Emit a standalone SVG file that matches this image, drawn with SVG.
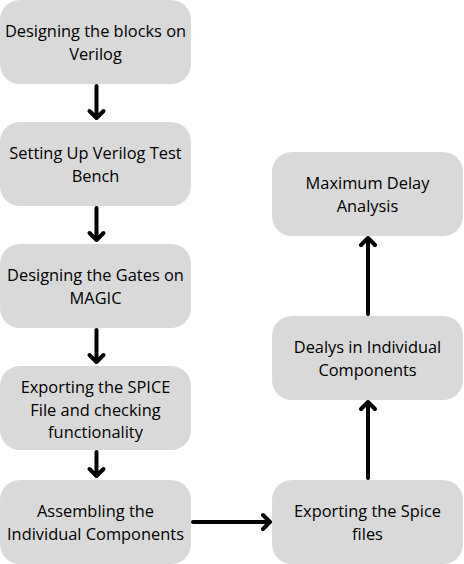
<svg xmlns="http://www.w3.org/2000/svg" width="464" height="564" viewBox="0 0 464 564">
<style>
.box{fill:#d9d9d9;}
.t{font-family:"Open Sans","Liberation Sans",sans-serif;font-size:16.4px;fill:#000;text-anchor:middle;}
.c{stroke:#000;stroke-width:4;fill:none;stroke-linecap:round;stroke-linejoin:round;}
</style>
<rect width="464" height="564" fill="#fff"/>
<g id="n1"><rect class="box" x="0" y="0" width="191" height="84" rx="20"/>
<text class="t" x="95.5" y="37">Designing the blocks on</text><text class="t" x="95.5" y="59.5">Verilog</text></g>
<g id="n2"><rect class="box" x="0" y="122" width="191" height="84" rx="20"/>
<text class="t" x="95.5" y="159">Setting Up Verilog Test</text><text class="t" x="95.5" y="181.5">Bench</text></g>
<g id="n3"><rect class="box" x="0" y="244" width="191" height="84" rx="20"/>
<text class="t" x="95.5" y="281">Designing the Gates on</text><text class="t" x="95.5" y="303.5">MAGIC</text></g>
<g id="n4"><rect class="box" x="0" y="366" width="191" height="84" rx="20"/>
<text class="t" x="95.5" y="393">Exporting the SPICE</text><text class="t" x="95.5" y="415.5">File and checking</text><text class="t" x="95.5" y="438">functionality</text></g>
<g id="n5"><rect class="box" x="0" y="480" width="191" height="84" rx="20"/>
<text class="t" x="95.5" y="517">Assembling the</text><text class="t" x="95.5" y="539.5">Individual Components</text></g>
<g id="n6"><rect class="box" x="272" y="480" width="191" height="84" rx="20"/>
<text class="t" x="367.5" y="517">Exporting the Spice</text><text class="t" x="367.5" y="539.5">files</text></g>
<g id="n7"><rect class="box" x="272" y="316" width="191" height="84" rx="20"/>
<text class="t" x="367.5" y="353">Dealys in Individual</text><text class="t" x="367.5" y="375.5">Components</text></g>
<g id="n8"><rect class="box" x="272" y="152" width="191" height="84" rx="20"/>
<text class="t" x="367.5" y="189">Maximum Delay</text><text class="t" x="367.5" y="211.5">Analysis</text></g>
<g id="connectors">
<path class="c" d="M96.5 86V118M89.5 111L96.5 118L103.5 111"/>
<path class="c" d="M96.5 208V240M89.5 233L96.5 240L103.5 233"/>
<path class="c" d="M96.5 330V362M89.5 355L96.5 362L103.5 355"/>
<path class="c" d="M96.5 452V476M89.5 469L96.5 476L103.5 469"/>
<path class="c" d="M193 522H270M263 515L270 522L263 529"/>
<path class="c" d="M368 478V402M361 409L368 402L375 409"/>
<path class="c" d="M368 314V238M361 245L368 238L375 245"/>
</g>
</svg>
